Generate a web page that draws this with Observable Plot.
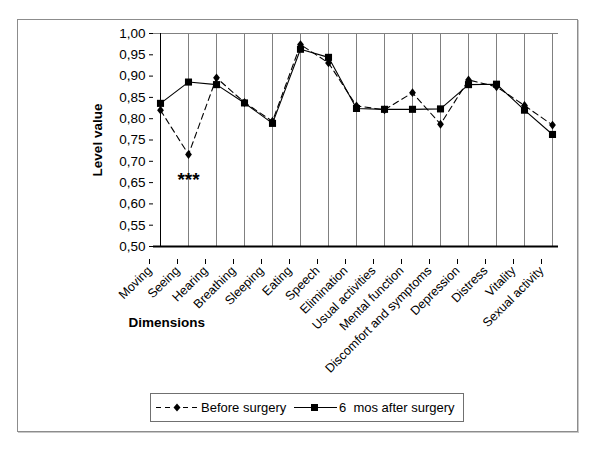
<!DOCTYPE html>
<html>
<head>
<meta charset="utf-8">
<script src="https://cdn.jsdelivr.net/npm/d3@7"></script>
<script src="https://cdn.jsdelivr.net/npm/@observablehq/plot@0.6"></script>
<style>
  body { margin: 0; background: #fff; }
  #wrap { position: relative; width: 600px; height: 450px; font-family: "Liberation Sans", Arial, sans-serif; }
  #frame { position: absolute; left: 17px; top: 19px; width: 561px; height: 413px; box-sizing: border-box; border: 1px solid #8c8c8c; box-shadow: 1px 1px 0 #c8c8c8; }
  #chart { position: absolute; left: 0; top: 0; }
  #legend { position: absolute; left: 150px; top: 393px; }
</style>
</head>
<body>
<div id="wrap"><div id="frame"></div><div id="chart"></div><div id="legend"></div></div>
<script>
const categories = ["Moving", "Seeing", "Hearing", "Breathing", "Sleeping", "Eating", "Speech", "Elimination", "Usual activities", "Mental function", "Discomfort and symptoms", "Depression", "Distress", "Vitality", "Sexual activity"];
const beforeSurgery = [0.820, 0.716, 0.896, 0.838, 0.794, 0.974, 0.931, 0.830, 0.821, 0.861, 0.787, 0.891, 0.875, 0.831, 0.785];
const afterSurgery = [0.836, 0.886, 0.880, 0.837, 0.789, 0.963, 0.944, 0.824, 0.822, 0.822, 0.823, 0.880, 0.881, 0.820, 0.763];
const yTicks = [0.50, 0.55, 0.60, 0.65, 0.70, 0.75, 0.80, 0.85, 0.90, 0.95, 1.00];
const seriesNames = ["Before surgery", "6  mos after surgery"];
const annotation = [{category: "Seeing", value: 0.665, text: "***"}];

const before = categories.map((c, i) => ({category: c, value: beforeSurgery[i]}));
const after = categories.map((c, i) => ({category: c, value: afterSurgery[i]}));

const diamondSym = {
  draw(ctx, size) {
    const r = Math.sqrt(size / Math.PI);
    const w = r * 0.85, h = r * 1.1;
    ctx.moveTo(0, -h); ctx.lineTo(w, 0); ctx.lineTo(0, h); ctx.lineTo(-w, 0); ctx.closePath();
  }
};

const chart = Plot.plot({
  width: 600,
  height: 450,
  marginTop: 33,
  marginBottom: 204,
  marginLeft: 153,
  marginRight: 42,
  style: {fontFamily: '"Liberation Sans", Arial, sans-serif', fontSize: "13px", color: "black", background: "transparent", overflow: "visible"},
  x: {type: "point", domain: categories, padding: 0},
  y: {domain: [0.5, 1.0]},
  marks: [
    Plot.ruleX(categories, {x: d => d, y1: 0.5, y2: 1.0, stroke: "#808080", strokeWidth: 1}),
    Plot.ruleY([1.0], {stroke: "#808080", strokeWidth: 1}),
    Plot.ruleX([categories[0]], {y1: 0.5, y2: 1.0, stroke: "black", strokeWidth: 1}),
    Plot.axisY({ticks: yTicks, tickFormat: d => d.toFixed(2).replace(".", ","), tickSize: 4, tickPadding: 4, label: null, fontSize: 13.5}),
    Plot.axisX({tickSize: 5, tickRotate: -45, tickPadding: 4, label: null, fontSize: 12.5, dx: -11, dy: 13}),
    Plot.ruleY([0.5], {stroke: "black", strokeWidth: 2}),
    Plot.line(before, {x: "category", y: "value", stroke: "black", strokeWidth: 1.1, strokeDasharray: "6,4"}),
    Plot.line(after, {x: "category", y: "value", stroke: "black", strokeWidth: 1.1}),
    Plot.dot(before, {x: "category", y: "value", symbol: diamondSym, r: 4, fill: "black", stroke: "none"}),
    Plot.dot(after, {x: "category", y: "value", symbol: "square", r: 4, fill: "black", stroke: "none"}),
    Plot.text(annotation, {x: "category", y: "value", text: "text", fontSize: 19, fontWeight: "bold", dy: 4}),
    Plot.text(["Level value"], {frameAnchor: "left", dx: -56, rotate: -90, fontWeight: "bold", fontSize: 13.5, textAnchor: "middle"}),
    Plot.text(["Dimensions"], {frameAnchor: "bottom-left", dx: -25, dy: 80, textAnchor: "start", fontWeight: "bold", fontSize: 13.5})
  ]
});
document.getElementById("chart").appendChild(chart);

// Legend
const ns = "http://www.w3.org/2000/svg";
const lg = document.createElementNS(ns, "svg");
lg.setAttribute("width", 315);
lg.setAttribute("height", 30);
lg.innerHTML = `
  <rect x="0.5" y="0.5" width="313" height="28" fill="white" stroke="#707070"/>
  <line x1="6" x2="49" y1="14.5" y2="14.5" stroke="black" stroke-dasharray="5,4"/>
  <path d="M27,10.5 L30.5,14.5 L27,18.5 L23.5,14.5 Z" fill="black"/>
  <text x="51" y="19" font-size="13" font-family="Liberation Sans, Arial, sans-serif">${seriesNames[0]}</text>
  <line x1="144" x2="187" y1="14.5" y2="14.5" stroke="black"/>
  <rect x="161" y="11" width="7" height="7" fill="black"/>
  <text x="189" y="19" font-size="13" font-family="Liberation Sans, Arial, sans-serif" style="white-space:pre" xml:space="preserve">${seriesNames[1]}</text>
`;
document.getElementById("legend").appendChild(lg);
</script>
</body>
</html>
